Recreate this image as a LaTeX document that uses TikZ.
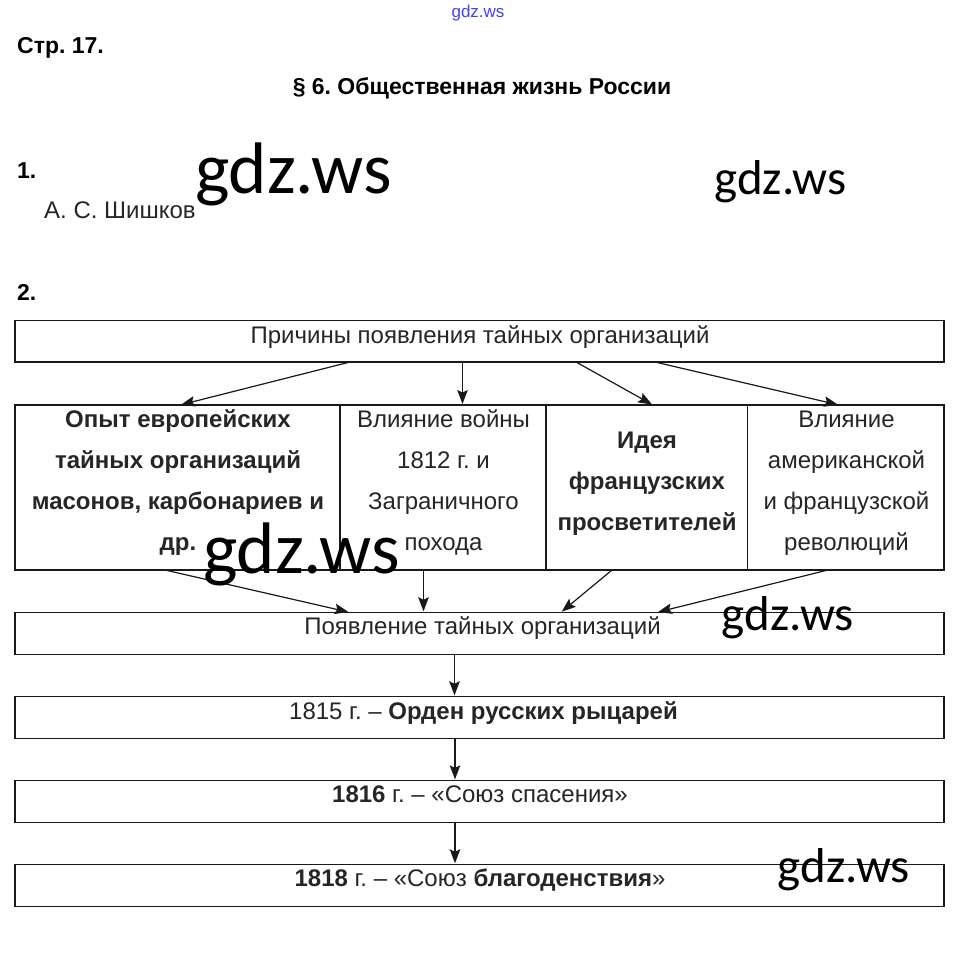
\documentclass[tikz,border=0pt]{standalone}
\usepackage{fontspec}
\setmainfont{Liberation Sans}
\newfontfamily\wmfont{Carlito}
\usetikzlibrary{arrows.meta}
\frenchspacing
\tikzset{
  box/.style={draw=black!90, line width=1.2pt, rectangle, inner sep=0pt, outer sep=0pt},
  arr/.style={draw=black!90, line width=1.2pt, -{Stealth[length=14pt,width=10.5pt,inset=2.5pt]}, shorten >=1pt},
  txt/.style={inner sep=0pt, anchor=base, text=black!85, font=\fontsize{24}{41}\selectfont},
  cell/.style={txt, align=center},
  head/.style={inner sep=0pt, anchor=base west, text=black, font=\fontsize{23}{28}\selectfont\bfseries},
  wmbig/.style={inner sep=0pt, anchor=base, text=black, font=\wmfont\fontsize{73}{80}\selectfont},
  wmsmall/.style={inner sep=0pt, anchor=base, text=black, font=\wmfont\fontsize{49}{55}\selectfont},
}
\begin{document}
\begin{tikzpicture}[x=1pt,y=-1pt]
\useasboundingbox[fill=white] (0,0) rectangle (956,956);

% headings
\node[inner sep=0pt, anchor=base, text=blue!75, font=\fontsize{17}{20}\selectfont] (wm0) at (478,17) {gdz.ws};
\node[head] (page) at (17,53.5) {Стр. 17.};
\node[head, anchor=base] (title) at (482,94.5) {§ 6. Общественная жизнь России};
\node[head] (n1) at (17,178) {1.};
\node[txt, anchor=base west] (ans1) at (44,218.5) {А. С. Шишков};
\node[head] (n2) at (17,300) {2.};

% boxes
\node[box, minimum width=929pt, minimum height=41.5pt] (top) at (479.5,341.25) {};
\node[box, minimum width=325pt, minimum height=165pt] (c1) at (177.5,487.5) {};
\node[box, minimum width=206pt, minimum height=165pt] (c2) at (443,487.5) {};
\node[box, minimum width=201.5pt, minimum height=165pt] (c3) at (646.75,487.5) {};
\node[box, minimum width=196.5pt, minimum height=165pt] (c4) at (845.75,487.5) {};
\node[box, minimum width=929pt, minimum height=42pt] (app) at (479.5,633.3) {};
\node[box, minimum width=929pt, minimum height=42pt] (b1815) at (479.5,717.3) {};
\node[box, minimum width=929pt, minimum height=42.5pt] (b1816) at (479.5,801.6) {};
\node[box, minimum width=929pt, minimum height=42pt] (b1818) at (479.5,885.3) {};

% texts (multi-line nodes: base = baseline of last line)
\node[txt] (ttop) at (480,343) {Причины появления тайных организаций};
\node[cell, font=\fontsize{24}{41}\selectfont\bfseries] (t1) at (178,550) {Опыт европейских\\тайных организаций\\масонов, карбонариев и\\др.};
\node[cell] (t2) at (443.5,550) {Влияние войны\\1812 г. и\\Заграничного\\похода};
\node[cell, font=\fontsize{24}{41}\selectfont\bfseries] (t3) at (647,530) {Идея\\французских\\просветителей};
\node[cell] (t4) at (846.5,550) {Влияние\\американской\\и французской\\революций};
\node[txt] (tapp) at (482.5,634) {Появление тайных организаций};
\node[txt] (t1815) at (483.5,719) {1815 г. – \textbf{Орден русских рыцарей}};
\node[txt] (t1816) at (480,802) {\textbf{1816} г. – «Союз спасения»};
\node[txt] (t1818) at (480,886) {\textbf{1818} г. – «Союз \textbf{благоденствия}»};

% arrows
\draw[arr] (top.south -| 350,0) -- (c1.north -| 180,0);
\draw[arr] (top.south -| 462.5,0) -- (c2.north -| 462.5,0);
\draw[arr] (top.south -| 576,0) -- (c3.north -| 653,0);
\draw[arr] (top.south -| 655,0) -- (c4.north -| 839,0);
\draw[arr] (c1.south -| 165,0) -- (app.north -| 349.5,0);
\draw[arr] (c2.south -| 423.5,0) -- (app.north -| 423.5,0);
\draw[arr] (c3.south -| 612,0) -- (app.north -| 561,0);
\draw[arr] (c4.south -| 828,0) -- (app.north -| 657,0);
\draw[arr] (app.south -| 454.5,0) -- (b1815.north -| 454.5,0);
\draw[arr] (b1815.south -| 455,0) -- (b1816.north -| 455,0);
\draw[arr] (b1816.south -| 455,0) -- (b1818.north -| 455,0);

% watermarks
\node[wmbig] (wm1) at (293.5,193) {gdz.ws};
\node[wmsmall] (wm2) at (780.5,194) {gdz.ws};
\node[wmbig] (wm3) at (301.5,573) {gdz.ws};
\node[wmsmall] (wm4) at (788,630) {gdz.ws};
\node[wmsmall] (wm5) at (844,882) {gdz.ws};
\end{tikzpicture}
\end{document}
